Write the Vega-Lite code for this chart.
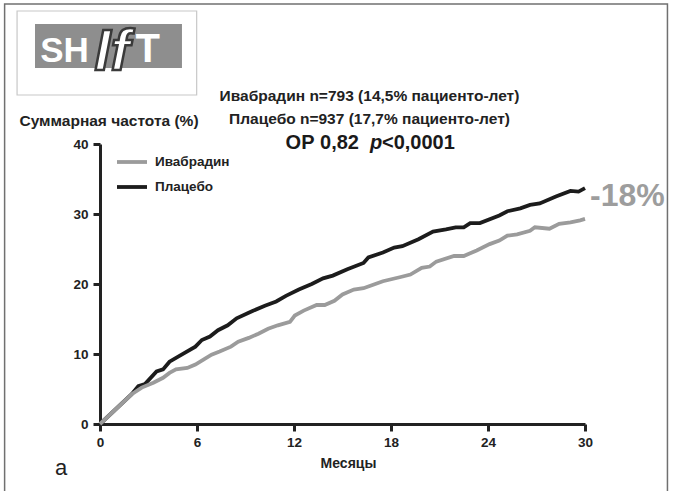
{
  "$schema": "https://vega.github.io/schema/vega-lite/v6.json",
  "width": 485,
  "height": 280,
  "autosize": {"type": "none"},
  "padding": {"left": 100, "top": 144, "right": 89, "bottom": 67},
  "background": "white",
  "resolve": {"axis": {"x": "independent", "y": "independent"}},
  "config": {
    "font": "Liberation Sans",
    "view": {"stroke": null},
    "axis": {
      "grid": false,
      "domainWidth": 3,
      "domainColor": "#222222",
      "tickWidth": 3,
      "tickColor": "#222222",
      "tickSize": 7,
      "labelFontWeight": "bold",
      "labelFontSize": 13.5,
      "labelColor": "#222222",
      "titleFontWeight": "bold",
      "titleColor": "#222222"
    }
  },
  "datasets": {
    "curves": [
      {"group": "Плацебо", "month": 0, "rate": 0},
      {"group": "Плацебо", "month": 1.96, "rate": 4.25},
      {"group": "Плацебо", "month": 2.37, "rate": 5.4},
      {"group": "Плацебо", "month": 2.78, "rate": 5.7},
      {"group": "Плацебо", "month": 3.5, "rate": 7.5},
      {"group": "Плацебо", "month": 3.9, "rate": 7.8},
      {"group": "Плацебо", "month": 4.3, "rate": 8.9},
      {"group": "Плацебо", "month": 5.05, "rate": 9.9},
      {"group": "Плацебо", "month": 5.9, "rate": 11.05},
      {"group": "Плацебо", "month": 6.3, "rate": 12.0},
      {"group": "Плацебо", "month": 6.8, "rate": 12.5},
      {"group": "Плацебо", "month": 7.3, "rate": 13.4},
      {"group": "Плацебо", "month": 7.9, "rate": 14.1},
      {"group": "Плацебо", "month": 8.45, "rate": 15.1},
      {"group": "Плацебо", "month": 9.4, "rate": 16.1},
      {"group": "Плацебо", "month": 10.2, "rate": 16.9},
      {"group": "Плацебо", "month": 10.9, "rate": 17.5},
      {"group": "Плацебо", "month": 11.5, "rate": 18.3},
      {"group": "Плацебо", "month": 12.3, "rate": 19.2},
      {"group": "Плацебо", "month": 13.1, "rate": 20.0},
      {"group": "Плацебо", "month": 13.8, "rate": 20.8},
      {"group": "Плацебо", "month": 14.4, "rate": 21.2},
      {"group": "Плацебо", "month": 15.3, "rate": 22.1},
      {"group": "Плацебо", "month": 16.3, "rate": 23.0},
      {"group": "Плацебо", "month": 16.6, "rate": 23.8},
      {"group": "Плацебо", "month": 17.5, "rate": 24.5},
      {"group": "Плацебо", "month": 18.2, "rate": 25.2},
      {"group": "Плацебо", "month": 18.7, "rate": 25.4},
      {"group": "Плацебо", "month": 19.7, "rate": 26.4},
      {"group": "Плацебо", "month": 20.6, "rate": 27.5},
      {"group": "Плацебо", "month": 21.4, "rate": 27.8},
      {"group": "Плацебо", "month": 22.0, "rate": 28.1},
      {"group": "Плацебо", "month": 22.5, "rate": 28.1},
      {"group": "Плацебо", "month": 22.9, "rate": 28.7},
      {"group": "Плацебо", "month": 23.5, "rate": 28.7},
      {"group": "Плацебо", "month": 24.7, "rate": 29.8},
      {"group": "Плацебо", "month": 25.2, "rate": 30.4},
      {"group": "Плацебо", "month": 26.0, "rate": 30.8},
      {"group": "Плацебо", "month": 26.6, "rate": 31.3},
      {"group": "Плацебо", "month": 27.2, "rate": 31.5},
      {"group": "Плацебо", "month": 28.2, "rate": 32.5},
      {"group": "Плацебо", "month": 29.1, "rate": 33.3},
      {"group": "Плацебо", "month": 29.6, "rate": 33.2},
      {"group": "Плацебо", "month": 30, "rate": 33.7},
      {"group": "Ивабрадин", "month": 0, "rate": 0},
      {"group": "Ивабрадин", "month": 1.96, "rate": 4.25},
      {"group": "Ивабрадин", "month": 2.58, "rate": 5.2},
      {"group": "Ивабрадин", "month": 3.3, "rate": 5.9},
      {"group": "Ивабрадин", "month": 3.9, "rate": 6.6},
      {"group": "Ивабрадин", "month": 4.3, "rate": 7.3},
      {"group": "Ивабрадин", "month": 4.7, "rate": 7.8},
      {"group": "Ивабрадин", "month": 5.4, "rate": 8.0},
      {"group": "Ивабрадин", "month": 5.9, "rate": 8.5},
      {"group": "Ивабрадин", "month": 6.4, "rate": 9.2},
      {"group": "Ивабрадин", "month": 6.9, "rate": 9.9},
      {"group": "Ивабрадин", "month": 7.4, "rate": 10.35},
      {"group": "Ивабрадин", "month": 8.1, "rate": 11.05},
      {"group": "Ивабрадин", "month": 8.55, "rate": 11.75},
      {"group": "Ивабрадин", "month": 9.2, "rate": 12.3},
      {"group": "Ивабрадин", "month": 9.8, "rate": 12.9},
      {"group": "Ивабрадин", "month": 10.4, "rate": 13.6},
      {"group": "Ивабрадин", "month": 11.0, "rate": 14.1},
      {"group": "Ивабрадин", "month": 11.75, "rate": 14.6},
      {"group": "Ивабрадин", "month": 12.05, "rate": 15.5},
      {"group": "Ивабрадин", "month": 12.6, "rate": 16.2},
      {"group": "Ивабрадин", "month": 13.4, "rate": 17.0},
      {"group": "Ивабрадин", "month": 13.9, "rate": 17.0},
      {"group": "Ивабрадин", "month": 14.5, "rate": 17.6},
      {"group": "Ивабрадин", "month": 15.0, "rate": 18.5},
      {"group": "Ивабрадин", "month": 15.7, "rate": 19.2},
      {"group": "Ивабрадин", "month": 16.3, "rate": 19.4},
      {"group": "Ивабрадин", "month": 16.9, "rate": 19.9},
      {"group": "Ивабрадин", "month": 17.5, "rate": 20.4},
      {"group": "Ивабрадин", "month": 18.6, "rate": 21.0},
      {"group": "Ивабрадин", "month": 19.2, "rate": 21.35},
      {"group": "Ивабрадин", "month": 19.9, "rate": 22.3},
      {"group": "Ивабрадин", "month": 20.4, "rate": 22.5},
      {"group": "Ивабрадин", "month": 20.8, "rate": 23.2},
      {"group": "Ивабрадин", "month": 21.9, "rate": 24.0},
      {"group": "Ивабрадин", "month": 22.5, "rate": 24.0},
      {"group": "Ивабрадин", "month": 23.3, "rate": 24.8},
      {"group": "Ивабрадин", "month": 24.1, "rate": 25.7},
      {"group": "Ивабрадин", "month": 24.7, "rate": 26.2},
      {"group": "Ивабрадин", "month": 25.2, "rate": 26.9},
      {"group": "Ивабрадин", "month": 25.8, "rate": 27.1},
      {"group": "Ивабрадин", "month": 26.6, "rate": 27.6},
      {"group": "Ивабрадин", "month": 26.9, "rate": 28.1},
      {"group": "Ивабрадин", "month": 27.8, "rate": 27.9},
      {"group": "Ивабрадин", "month": 28.4, "rate": 28.6},
      {"group": "Ивабрадин", "month": 29.1, "rate": 28.8},
      {"group": "Ивабрадин", "month": 29.7, "rate": 29.1},
      {"group": "Ивабрадин", "month": 30, "rate": 29.3}
    ]
  },
  "layer": [
    {
      "data": {"values": [{}]},
      "mark": {"type": "rect", "fillOpacity": 0, "stroke": "#707070", "strokeWidth": 1.5},
      "encoding": {
        "x": {"datum": -5.9, "type": "quantitative", "axis": null},
        "x2": {"datum": 35.1},
        "y": {"datum": 60.0, "type": "quantitative", "axis": null},
        "y2": {"datum": -12}
      }
    },
    {
      "data": {"values": [{}]},
      "mark": {"type": "rect", "fillOpacity": 0, "stroke": "#c8c8c8", "strokeWidth": 1.2},
      "encoding": {
        "x": {"datum": -5.13, "type": "quantitative", "axis": null},
        "x2": {"datum": 5.98},
        "y": {"datum": 59.0, "type": "quantitative", "axis": null},
        "y2": {"datum": 47.0}
      }
    },
    {
      "data": {"values": [{}]},
      "mark": {"type": "rect", "fill": "#8e8e8e"},
      "encoding": {
        "x": {"datum": -4.02, "type": "quantitative", "axis": null},
        "x2": {"datum": 5.07},
        "y": {"datum": 57.14, "type": "quantitative", "axis": null},
        "y2": {"datum": 50.86}
      }
    },
    {
      "data": {"values": [{"t": "SH"}]},
      "mark": {"type": "text", "align": "left", "baseline": "alphabetic", "fontSize": 35, "fontWeight": "bold", "fill": "white"},
      "encoding": {
        "x": {"datum": -3.7, "type": "quantitative", "axis": null},
        "y": {"datum": 51.71, "type": "quantitative", "axis": null},
        "text": {"field": "t"}
      }
    },
    {
      "data": {"values": [{"t": "T"}]},
      "mark": {"type": "text", "align": "left", "baseline": "alphabetic", "fontSize": 40, "fontWeight": "bold", "fill": "white"},
      "encoding": {
        "x": {"datum": 2.2, "type": "quantitative", "axis": null},
        "y": {"datum": 51.71, "type": "quantitative", "axis": null},
        "text": {"field": "t"}
      }
    },
    {
      "data": {"values": [{"t": "If"}]},
      "mark": {"type": "text", "align": "center", "baseline": "alphabetic", "fontSize": 58, "fontWeight": "bold", "fontStyle": "italic", "fill": "white", "stroke": "#3a3a3a", "strokeWidth": 2.5},
      "encoding": {
        "x": {"datum": 0.75, "type": "quantitative", "axis": null},
        "y": {"datum": 50.6, "type": "quantitative", "axis": null},
        "text": {"field": "t"}
      }
    },
    {
      "data": {"name": "curves"},
      "mark": {"type": "line", "strokeWidth": 3.8, "clip": false},
      "encoding": {
        "x": {
          "field": "month", "type": "quantitative",
          "scale": {"domain": [0, 30], "nice": false, "zero": false},
          "axis": {"values": [0, 6, 12, 18, 24, 30], "title": "Месяцы", "titleFontSize": 14, "titlePadding": 8, "titleX": 248, "labelPadding": 4, "labelFlush": false}
        },
        "y": {
          "field": "rate", "type": "quantitative",
          "scale": {"domain": [0, 40], "nice": false, "zero": false},
          "axis": {"values": [0, 10, 20, 30, 40], "title": "Суммарная частота (%)", "titleAngle": 0, "titleAlign": "center", "titleBaseline": "middle", "titleX": 8.5, "titleY": -24, "titleFontSize": 15.5, "labelPadding": 5}
        },
        "color": {
          "field": "group", "type": "nominal",
          "scale": {"domain": ["Ивабрадин", "Плацебо"], "range": ["#9b9b9b", "#1c1c1c"]},
          "legend": {
            "orient": "none", "legendX": 15, "legendY": 1, "title": null, "padding": 0,
            "symbolType": "stroke", "symbolSize": 900, "symbolStrokeWidth": 3.8,
            "labelFontSize": 13.5, "labelFontWeight": "bold", "labelColor": "#222222",
            "labelOffset": 6, "rowPadding": -12
          }
        }
      }
    },
    {
      "data": {"values": [{"t": "Ивабрадин n=793 (14,5% пациенто-лет)"}]},
      "mark": {"type": "text", "align": "center", "baseline": "middle", "fontSize": 15.5, "fontWeight": "bold", "fill": "#222222"},
      "encoding": {
        "x": {"datum": 16.67, "type": "quantitative", "axis": null},
        "y": {"datum": 46.86, "type": "quantitative", "axis": null},
        "text": {"field": "t"}
      }
    },
    {
      "data": {"values": [{"t": "Плацебо n=937 (17,7% пациенто-лет)"}]},
      "mark": {"type": "text", "align": "center", "baseline": "middle", "fontSize": 15.5, "fontWeight": "bold", "fill": "#222222"},
      "encoding": {
        "x": {"datum": 16.67, "type": "quantitative", "axis": null},
        "y": {"datum": 43.57, "type": "quantitative", "axis": null},
        "text": {"field": "t"}
      }
    },
    {
      "data": {"values": [{"t": "ОР 0,82"}]},
      "mark": {"type": "text", "align": "right", "baseline": "middle", "fontSize": 20, "fontWeight": "bold", "fill": "#1a1a1a"},
      "encoding": {
        "x": {"datum": 16.02, "type": "quantitative", "axis": null},
        "y": {"datum": 40.14, "type": "quantitative", "axis": null},
        "text": {"field": "t"}
      }
    },
    {
      "data": {"values": [{"t": "p"}]},
      "mark": {"type": "text", "align": "left", "baseline": "middle", "fontSize": 20, "fontWeight": "bold", "fontStyle": "italic", "fill": "#1a1a1a"},
      "encoding": {
        "x": {"datum": 16.7, "type": "quantitative", "axis": null},
        "y": {"datum": 40.14, "type": "quantitative", "axis": null},
        "text": {"field": "t"}
      }
    },
    {
      "data": {"values": [{"t": "<0,0001"}]},
      "mark": {"type": "text", "align": "left", "baseline": "middle", "fontSize": 20, "fontWeight": "bold", "fill": "#1a1a1a"},
      "encoding": {
        "x": {"datum": 17.44, "type": "quantitative", "axis": null},
        "y": {"datum": 40.14, "type": "quantitative", "axis": null},
        "text": {"field": "t"}
      }
    },
    {
      "data": {"values": [{"t": "-18%"}]},
      "mark": {"type": "text", "align": "left", "baseline": "middle", "fontSize": 32, "fontWeight": "bold", "fill": "#9d9d9d"},
      "encoding": {
        "x": {"datum": 30.31, "type": "quantitative", "axis": null},
        "y": {"datum": 32.57, "type": "quantitative", "axis": null},
        "text": {"field": "t"}
      }
    },
    {
      "data": {"values": [{"t": "а"}]},
      "mark": {"type": "text", "align": "center", "baseline": "middle", "fontSize": 22, "fill": "#222222"},
      "encoding": {
        "x": {"datum": -2.41, "type": "quantitative", "axis": null},
        "y": {"datum": -6.29, "type": "quantitative", "axis": null},
        "text": {"field": "t"}
      }
    }
  ]
}
